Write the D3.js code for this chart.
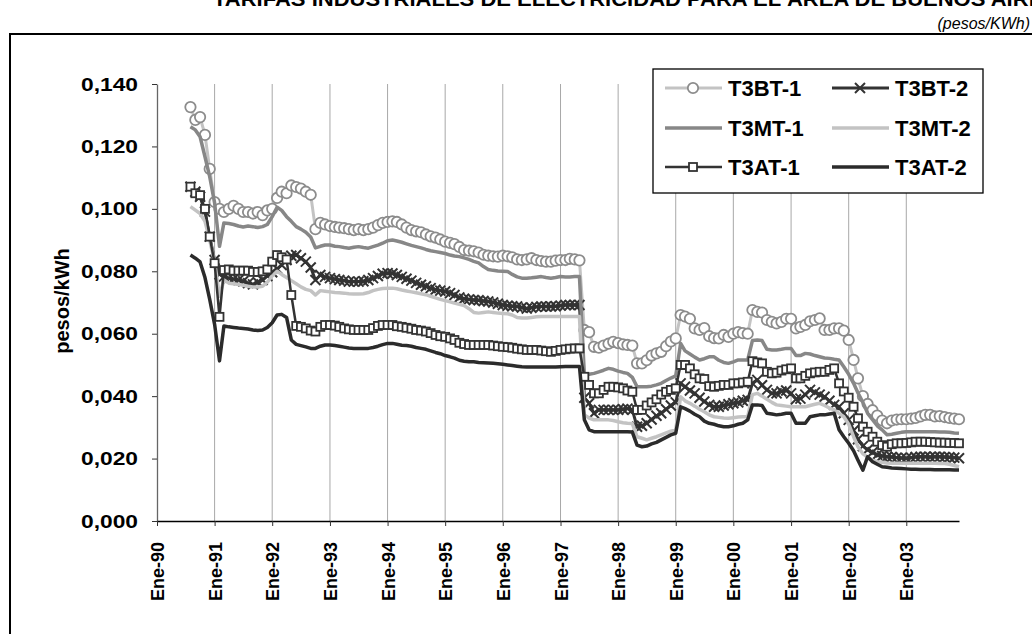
<!DOCTYPE html>
<html>
<head>
<meta charset="utf-8">
<script src="https://cdn.jsdelivr.net/npm/d3@7"></script>
<style>
body { margin: 0; background: #fff; }
svg { display: block; font-family: Arial, "Liberation Sans", sans-serif; }
</style>
</head>
<body>
<svg id="chart" width="1032" height="634"></svg>
<script>
// monthly values, Ago-1990 .. Dic-2003 (one row per year)
var firstMonth = new Date(1990, 7, 1);
var lastMonth = new Date(2003, 11, 1);
var yearLabels = ["Ene-90","Ene-91","Ene-92","Ene-93","Ene-94","Ene-95","Ene-96","Ene-97","Ene-98","Ene-99","Ene-00","Ene-01","Ene-02","Ene-03"];
var yTicks = [0, 0.02, 0.04, 0.06, 0.08, 0.10, 0.12, 0.14];
var names = ["T3BT-1", "T3BT-2", "T3MT-1", "T3MT-2", "T3AT-1", "T3AT-2"];

var t3bt1 = [
  .1326,.1285,.1294,.1237,.1128,
  .1022,.1000,.0990,.1000,.1010,.1000,.0990,.0990,.0985,.0990,.0980,.0995,
  .1000,.1035,.1055,.1050,.1075,.1070,.1065,.1055,.1045,.0935,.0955,.0950,
  .0945,.0942,.0940,.0938,.0935,.0932,.0935,.0932,.0935,.0940,.0948,.0955,
  .0958,.0960,.0958,.0950,.0940,.0932,.0928,.0925,.0918,.0912,.0908,.0902,
  .0895,.0891,.0887,.0878,.0868,.0866,.0864,.0860,.0853,.0850,.0848,.0847,
  .0850,.0848,.0845,.0838,.0836,.0838,.0842,.0836,.0833,.0831,.0831,.0834,
  .0836,.0836,.0840,.0838,.0835,.0612,.0605,.0558,.0555,.0562,.0568,.0574,
  .0570,.0566,.0564,.0562,.0505,.0505,.0515,.0530,.0537,.0542,.0560,.0575,
  .0585,.0660,.0655,.0648,.0617,.0612,.0618,.0592,.0586,.0585,.0596,.0590,
  .0600,.0605,.0602,.0600,.0676,.0670,.0668,.0644,.0638,.0633,.0638,.0648,
  .0648,.0617,.0622,.0628,.0640,.0644,.0649,.0612,.0612,.0617,.0617,.0610,
  .0580,.0516,.0457,.0400,.0375,.0355,.0338,.0322,.0313,.0322,.0325,.0326,
  .0326,.0328,.0330,.0335,.0340,.0340,.0335,.0336,.0333,.0330,.0328,.0326
];
var t3bt2 = [
  .1071,.1055,.1039,.0991,.0911,
  .0836,.0790,.0783,.0778,.0775,.0772,.0768,.0762,.0758,.0765,.0772,.0785,
  .0797,.0808,.0820,.0836,.0850,.0852,.0842,.0831,.0812,.0772,.0788,.0782,
  .0778,.0775,.0772,.0770,.0767,.0767,.0767,.0768,.0772,.0778,.0785,.0792,
  .0794,.0793,.0788,.0782,.0776,.0770,.0763,.0757,.0752,.0746,.0741,.0738,
  .0735,.0730,.0724,.0716,.0712,.0710,.0708,.0707,.0705,.0703,.0700,.0696,
  .0692,.0690,.0688,.0687,.0684,.0681,.0683,.0686,.0687,.0687,.0687,.0688,
  .0690,.0692,.0692,.0692,.0692,.0395,.0377,.0345,.0356,.0356,.0356,.0356,
  .0356,.0358,.0360,.0356,.0302,.0305,.0313,.0325,.0337,.0345,.0358,.0370,
  .0380,.0441,.0430,.0418,.0409,.0395,.0383,.0372,.0366,.0366,.0370,.0374,
  .0377,.0380,.0385,.0388,.0441,.0452,.0435,.0420,.0409,.0409,.0415,.0418,
  .0409,.0390,.0392,.0405,.0420,.0412,.0405,.0398,.0385,.0372,.0366,.0345,
  .0324,.0290,.0262,.0240,.0228,.0220,.0212,.0208,.0206,.0205,.0203,.0202,
  .0201,.0203,.0205,.0206,.0206,.0205,.0206,.0206,.0205,.0204,.0203,.0201
];
var t3mt1 = [
  .1263,.1253,.1231,.1167,.1103,
  .1019,.0880,.0955,.0953,.0950,.0945,.0942,.0945,.0943,.0940,.0943,.0950,
  .0975,.1005,.0995,.0975,.0960,.0943,.0935,.0925,.0910,.0875,.0880,.0884,
  .0884,.0880,.0879,.0876,.0874,.0877,.0879,.0876,.0874,.0879,.0884,.0890,
  .0898,.0900,.0897,.0893,.0888,.0883,.0879,.0875,.0870,.0866,.0863,.0860,
  .0857,.0852,.0849,.0847,.0843,.0838,.0832,.0827,.0815,.0806,.0803,.0801,
  .0800,.0799,.0790,.0782,.0778,.0778,.0779,.0781,.0783,.0780,.0778,.0780,
  .0783,.0782,.0782,.0783,.0783,.0468,.0470,.0473,.0478,.0483,.0489,.0486,
  .0480,.0476,.0473,.0460,.0430,.0430,.0430,.0432,.0436,.0441,.0450,.0458,
  .0465,.0569,.0545,.0535,.0525,.0516,.0520,.0526,.0526,.0515,.0508,.0505,
  .0510,.0516,.0516,.0516,.0578,.0580,.0578,.0550,.0548,.0548,.0550,.0553,
  .0553,.0530,.0530,.0537,.0535,.0530,.0526,.0522,.0521,.0518,.0516,.0494,
  .0470,.0441,.0410,.0380,.0345,.0325,.0305,.0292,.0276,.0278,.0281,.0284,
  .0286,.0286,.0286,.0286,.0286,.0286,.0286,.0285,.0285,.0284,.0282,.0281
];
var t3mt2 = [
  .1007,.0996,.0985,.0960,.0900,
  .0830,.0720,.0772,.0762,.0760,.0758,.0755,.0752,.0750,.0750,.0752,.0765,
  .0785,.0800,.0790,.0780,.0770,.0760,.0750,.0742,.0738,.0724,.0738,.0736,
  .0734,.0732,.0731,.0730,.0728,.0727,.0727,.0728,.0732,.0738,.0742,.0745,
  .0746,.0746,.0744,.0740,.0737,.0734,.0731,.0728,.0725,.0720,.0715,.0710,
  .0706,.0702,.0698,.0694,.0690,.0680,.0668,.0666,.0668,.0670,.0668,.0666,
  .0665,.0664,.0660,.0652,.0650,.0650,.0652,.0654,.0655,.0655,.0655,.0655,
  .0655,.0655,.0655,.0655,.0655,.0340,.0330,.0324,.0324,.0324,.0324,.0322,
  .0318,.0315,.0313,.0312,.0270,.0265,.0260,.0265,.0270,.0276,.0282,.0288,
  .0292,.0398,.0385,.0377,.0368,.0358,.0350,.0340,.0334,.0332,.0330,.0329,
  .0331,.0333,.0334,.0334,.0405,.0409,.0400,.0390,.0380,.0372,.0370,.0368,
  .0366,.0366,.0366,.0366,.0370,.0374,.0377,.0370,.0362,.0356,.0345,.0334,
  .0310,.0270,.0238,.0215,.0205,.0195,.0190,.0188,.0186,.0185,.0185,.0185,
  .0185,.0185,.0185,.0185,.0185,.0185,.0185,.0184,.0184,.0182,.0178,.0174
];
var t3at1 = [
  .1071,.1050,.1044,.1000,.0911,
  .0826,.0654,.0804,.0806,.0802,.0802,.0802,.0802,.0798,.0798,.0800,.0806,
  .0831,.0852,.0845,.0838,.0724,.0625,.0622,.0617,.0610,.0607,.0622,.0628,
  .0628,.0626,.0622,.0617,.0614,.0612,.0612,.0612,.0612,.0618,.0625,.0628,
  .0628,.0628,.0624,.0622,.0619,.0616,.0612,.0610,.0607,.0602,.0596,.0592,
  .0590,.0585,.0580,.0571,.0567,.0564,.0564,.0564,.0564,.0564,.0562,.0560,
  .0558,.0557,.0555,.0552,.0550,.0548,.0548,.0548,.0546,.0544,.0542,.0545,
  .0548,.0550,.0552,.0553,.0553,.0462,.0436,.0409,.0409,.0420,.0430,.0430,
  .0428,.0425,.0418,.0414,.0356,.0356,.0370,.0380,.0390,.0405,.0414,.0420,
  .0425,.0500,.0500,.0489,.0470,.0457,.0455,.0432,.0430,.0433,.0436,.0436,
  .0441,.0441,.0444,.0446,.0512,.0508,.0505,.0478,.0473,.0475,.0482,.0486,
  .0489,.0457,.0457,.0465,.0473,.0476,.0478,.0478,.0484,.0489,.0441,.0415,
  .0395,.0366,.0329,.0302,.0286,.0270,.0254,.0243,.0238,.0246,.0249,.0249,
  .0250,.0252,.0254,.0254,.0254,.0253,.0252,.0251,.0251,.0250,.0250,.0249
];
var t3at2 = [
  .0852,.0842,.0830,.0780,.0710,
  .0630,.0513,.0625,.0622,.0620,.0618,.0617,.0615,.0612,.0610,.0612,.0620,
  .0635,.0660,.0662,.0652,.0580,.0566,.0562,.0558,.0553,.0553,.0560,.0564,
  .0564,.0562,.0560,.0557,.0554,.0553,.0553,.0553,.0553,.0556,.0560,.0565,
  .0569,.0569,.0566,.0563,.0562,.0560,.0556,.0553,.0550,.0545,.0540,.0536,
  .0530,.0526,.0522,.0515,.0512,.0510,.0510,.0508,.0507,.0506,.0505,.0504,
  .0502,.0500,.0498,.0496,.0494,.0493,.0493,.0493,.0493,.0493,.0493,.0493,
  .0494,.0495,.0495,.0495,.0495,.0324,.0292,.0286,.0286,.0286,.0286,.0286,
  .0286,.0286,.0286,.0285,.0243,.0238,.0240,.0247,.0252,.0260,.0268,.0276,
  .0281,.0366,.0360,.0352,.0342,.0334,.0320,.0313,.0310,.0305,.0302,.0302,
  .0305,.0310,.0313,.0324,.0372,.0372,.0370,.0345,.0343,.0340,.0342,.0345,
  .0345,.0313,.0313,.0313,.0334,.0337,.0340,.0340,.0343,.0345,.0292,.0270,
  .0249,.0225,.0195,.0163,.0206,.0190,.0182,.0174,.0172,.0170,.0169,.0168,
  .0167,.0166,.0166,.0165,.0165,.0165,.0164,.0164,.0164,.0164,.0163,.0163
];

var values = [t3bt1, t3bt2, t3mt1, t3mt2, t3at1, t3at2];
var months = d3.timeMonth.range(firstMonth, d3.timeMonth.offset(lastMonth, 1));

// look of each series
var styles = [
  {color: "#c3c3c3", width: 3,   marker: "circle"},
  {color: "#333333", width: 3,   marker: "x"},
  {color: "#878787", width: 3.5, marker: null},
  {color: "#c3c3c3", width: 3.5, marker: null},
  {color: "#333333", width: 2.5, marker: "square"},
  {color: "#2b2b2b", width: 3.5, marker: null}
];

var svg = d3.select("#chart");

// outer frame and headings
svg.append("rect")
  .attr("x", 10).attr("y", 34)
  .attr("width", 1100).attr("height", 700)
  .attr("fill", "none").attr("stroke", "#000").attr("stroke-width", 2);

// the title sits above the picture's top edge, as in the source image
svg.append("text")
  .attr("x", 213).attr("y", 6)
  .style("font-size", "20px").style("font-weight", "bold")
  .attr("textLength", 845).attr("lengthAdjust", "spacingAndGlyphs")
  .text("TARIFAS INDUSTRIALES DE ELECTRICIDAD PARA EL ÁREA DE BUENOS AIRES");

svg.append("text")
  .attr("x", 1030).attr("y", 29)
  .attr("text-anchor", "end")
  .style("font-size", "16px").style("font-style", "italic")
  .text("(pesos/KWh)");

var x = d3.scaleTime()
  .domain([new Date(1990, 0, 1), lastMonth])
  .range([157, 959]);
var y = d3.scaleLinear()
  .domain([0, 0.14])
  .range([521, 84]);

var yearDates = yearLabels.map(function(d, i) { return new Date(1990 + i, 0, 1); });

// vertical gridlines
svg.append("g").selectAll("line")
  .data(yearDates.slice(1))
  .enter().append("line")
  .attr("x1", function(d) { return x(d); })
  .attr("x2", function(d) { return x(d); })
  .attr("y1", y(0.14)).attr("y2", y(0))
  .attr("stroke", "#a8a8a8").attr("stroke-width", 1);

// y axis
var yAxis = svg.append("g")
  .attr("transform", "translate(157,0)")
  .call(d3.axisLeft(y).tickValues(yTicks).tickSize(5).tickSizeOuter(0).tickPadding(14)
    .tickFormat(function(d) { return d3.format(".3f")(d).replace(".", ","); }));
yAxis.select(".domain").attr("stroke", "#666").attr("stroke-width", 1.3);
yAxis.selectAll(".tick line").attr("stroke", "#333");
yAxis.selectAll("text")
  .attr("fill", "#000")
  .style("font-size", "19px").style("font-weight", "bold")
  .attr("textLength", 57).attr("lengthAdjust", "spacingAndGlyphs");

// x axis
var xAxis = svg.append("g")
  .attr("transform", "translate(0,521)")
  .call(d3.axisBottom(x).tickValues(yearDates).tickSize(5).tickSizeOuter(0)
    .tickFormat(function(d, i) { return yearLabels[i]; }));
xAxis.select(".domain").attr("stroke", "#000").attr("stroke-width", 1.5);
xAxis.selectAll(".tick line").attr("stroke", "#333");
xAxis.selectAll("text")
  .attr("fill", "#000")
  .style("font-size", "18px").style("font-weight", "bold")
  .attr("text-anchor", "end")
  .attr("transform", "rotate(-90)")
  .attr("x", -21).attr("y", 0).attr("dy", "0.36em");

svg.append("text")
  .attr("transform", "translate(69,301) rotate(-90)")
  .attr("text-anchor", "middle")
  .style("font-size", "20px").style("font-weight", "bold")
  .text("pesos/kWh");

function drawMarker(g, kind, s) {
  if (kind === "circle") {
    g.append("circle").attr("r", 5.2)
      .attr("fill", "#fff").attr("stroke", "#8c8c8c").attr("stroke-width", 1.8);
  } else if (kind === "square") {
    g.append("rect").attr("x", -4).attr("y", -4).attr("width", 8).attr("height", 8)
      .attr("fill", "#fff").attr("stroke", s.color).attr("stroke-width", 1.8);
  } else if (kind === "x") {
    g.append("path").attr("d", "M-5,-5L5,5M-5,5L5,-5")
      .attr("fill", "none").attr("stroke", s.color).attr("stroke-width", 2);
  }
}

var line = d3.line()
  .x(function(d) { return x(d.date); })
  .y(function(d) { return y(d.v); });

values.forEach(function(vals, k) {
  var s = styles[k];
  var pts = months.map(function(m, i) { return {date: m, v: vals[i]}; });
  var g = svg.append("g");
  g.append("path")
    .datum(pts)
    .attr("d", line)
    .attr("fill", "none")
    .attr("stroke", s.color)
    .attr("stroke-width", s.width)
    .attr("stroke-linejoin", "round");
  if (s.marker) {
    g.selectAll(".mk")
      .data(pts)
      .enter().append("g")
      .attr("class", "mk")
      .attr("transform", function(d) { return "translate(" + x(d.date) + "," + y(d.v) + ")"; })
      .each(function() { drawMarker(d3.select(this), s.marker, s); });
  }
});

// legend
var legend = svg.append("g");
legend.append("rect")
  .attr("x", 653).attr("y", 69).attr("width", 330).attr("height", 124)
  .attr("fill", "#fff").attr("stroke", "#000").attr("stroke-width", 1.3);

var legCols = [665, 832];
var legRows = [88, 128, 167];
names.forEach(function(n, k) {
  var s = styles[k];
  var lx = legCols[k % 2];
  var ly = legRows[Math.floor(k / 2)];
  var item = legend.append("g").attr("transform", "translate(" + lx + "," + ly + ")");
  item.append("line")
    .attr("x1", 0).attr("x2", 57).attr("y1", 0).attr("y2", 0)
    .attr("stroke", s.color).attr("stroke-width", s.width);
  if (s.marker) {
    drawMarker(item.append("g").attr("transform", "translate(28,0)"), s.marker, s);
  }
  item.append("text")
    .attr("x", 63).attr("y", 0).attr("dy", "0.36em")
    .style("font-size", "22px").style("font-weight", "bold")
    .text(n);
});
</script>
</body>
</html>
